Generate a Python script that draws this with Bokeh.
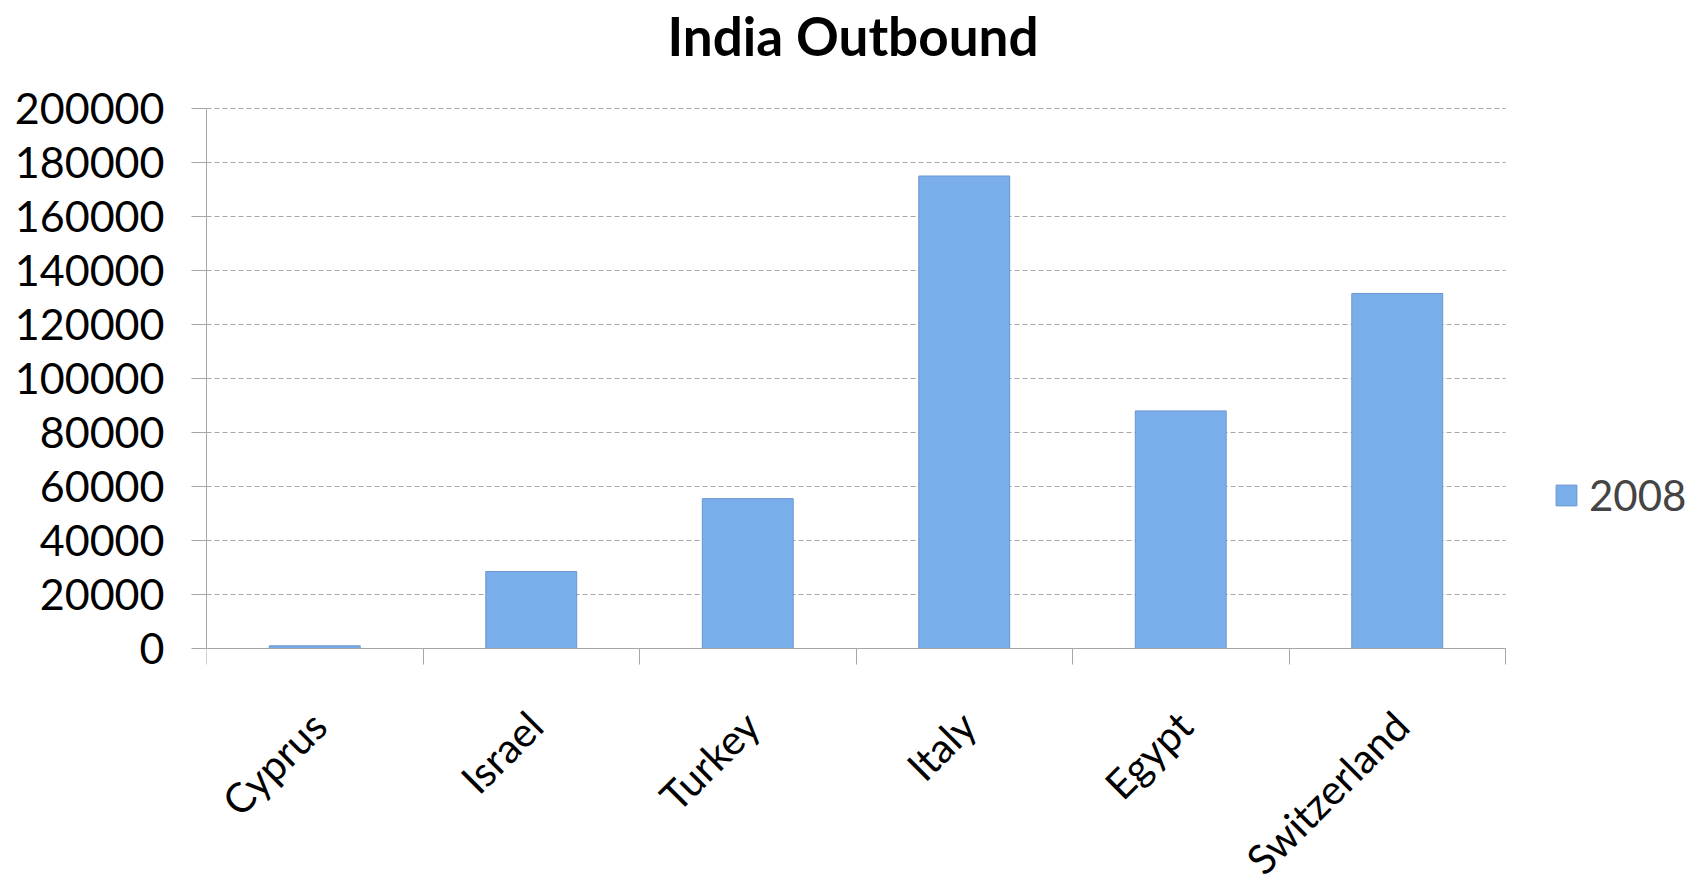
from math import pi
from bokeh.plotting import figure
from bokeh.core.properties import value
from bokeh.models import (Range1d, LinearAxis, FixedTicker, LabelSet, Label, ColumnDataSource,
                          Legend, LegendItem, NumeralTickFormatter, Grid)
from bokeh.embed import file_html
from bokeh.resources import INLINE

# ---- data ----
countries = ["Cyprus", "Israel", "Turkey", "Italy", "Egypt", "Switzerland"]
arrivals_2008 = [1000, 28500, 55500, 175000, 88000, 131500]
y_ticks = [0, 20000, 40000, 60000, 80000, 100000, 120000, 140000, 160000, 180000, 200000]
series_name = "2008"
chart_title = "India Outbound"

FONT = "Lato"
GRID = "#a6a6a6"

# ---- layout (pixels) ----
FIG_W, FIG_H = 1691, 877
FRAME_LEFT = 206          # left panel holding the value axis
TOP_PX = 108              # space above the top value line (title lives there)
PLOT_W, PLOT_H = 1299, 540

n = len(countries)
slot_center = [i + 0.5 for i in range(n)]      # category slots on a 0..n axis
slot_edges = list(range(n + 1))                # category boundaries (tick marks)

span = y_ticks[-1] - y_ticks[0]
per_px = span / PLOT_H
y_view = (y_ticks[0] - (FIG_H - TOP_PX - PLOT_H) * per_px, y_ticks[-1] + TOP_PX * per_px)
x_view = (0, n * (FIG_W - FRAME_LEFT) / PLOT_W)

p = figure(x_range=Range1d(*x_view), y_range=Range1d(*y_view),
           width=FIG_W, height=FIG_H, output_backend="svg", toolbar_location=None,
           x_axis_location=None,
           min_border_left=FRAME_LEFT, min_border_right=0, min_border_top=0, min_border_bottom=0)
p.outline_line_color = None
p.background_fill_color = "white"
p.border_fill_color = "white"

# y axis
p.yaxis.ticker = FixedTicker(ticks=y_ticks)
p.yaxis.bounds = (y_ticks[0], y_ticks[-1])
p.yaxis.formatter = NumeralTickFormatter(format="0")
p.yaxis.major_label_text_font = FONT
p.yaxis.major_label_text_font_size = "43px"
p.yaxis.major_label_text_color = "black"
p.yaxis.major_tick_out = 15
p.yaxis.major_tick_in = 0
p.yaxis.minor_tick_out = 0
p.yaxis.minor_tick_in = 0
p.yaxis.axis_line_color = GRID
p.yaxis.major_tick_line_color = GRID
p.yaxis.major_label_standoff = 27

for g in p.select(type=Grid):
    if g.dimension == 0:
        g.visible = False
    else:
        g.grid_line_color = GRID
        g.grid_line_dash = "5 3"
        g.grid_line_width = 1
        if "cross_bounds" in Grid.properties():
            g.cross_bounds = (0, n)

# x axis at value 0: ticks at category boundaries
xaxis = LinearAxis(fixed_location=y_ticks[0], ticker=FixedTicker(ticks=slot_edges),
                   bounds=(0, n),
                   major_label_text_font_size="0px", major_label_standoff=0,
                   major_tick_out=16, major_tick_in=0, minor_tick_out=0, minor_tick_in=0,
                   axis_line_color=GRID, major_tick_line_color=GRID)
p.add_layout(xaxis, "below")

src = ColumnDataSource(dict(x=slot_center, country=countries, value=arrivals_2008,
                            base=[y_ticks[0]] * n))

bars = p.vbar(x="x", top="value", width=0.42, source=src,
              fill_color="#7aaeea", line_color="#6a96cf", line_width=1)

labels = LabelSet(x="x", y="base", text="country", source=src,
                  angle=pi / 4, text_align="right", text_baseline="middle",
                  x_offset=4, y_offset=-70,
                  text_font=value(FONT), text_font_size=value("41px"), text_color="black")
p.add_layout(labels)

title = Label(x=n / 2, y=y_ticks[-1], text=chart_title, x_offset=-3, y_offset=73,
              text_align="center", text_baseline="alphabetic",
              text_font=FONT, text_font_style="bold", text_font_size="53px", text_color="black")
p.add_layout(title)

legend = Legend(items=[LegendItem(label=series_name, renderers=[bars])],
                location=(1347, 357), border_line_color=None, background_fill_alpha=0,
                padding=0, margin=0, glyph_width=26, glyph_height=26, label_standoff=10,
                label_text_font=FONT, label_text_font_size="42px", spacing=0)
p.add_layout(legend)

open("out.html", "w").write(file_html(p, INLINE))
